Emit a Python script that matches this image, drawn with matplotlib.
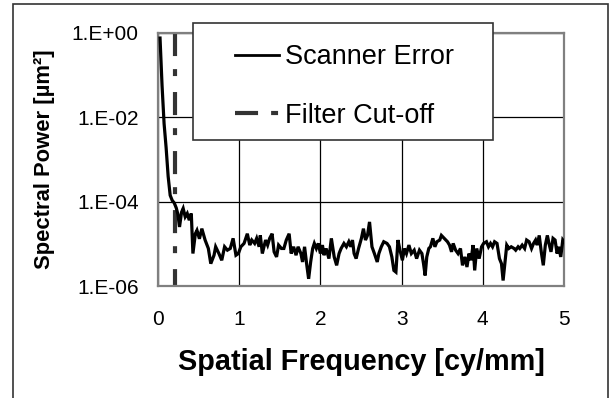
import matplotlib
matplotlib.use('Agg')
import matplotlib.pyplot as plt
import matplotlib.patches as patches
from matplotlib.lines import Line2D
import numpy as np

# ─── Data ────────────────────────────────────────────────────────────────────
freq = [0.025, 0.05, 0.075, 0.10, 0.125, 0.15, 0.175, 0.20, 0.225, 0.245,
        0.265, 0.29, 0.31, 0.335, 0.36, 0.385, 0.41, 0.43, 0.46, 0.48,
        0.51, 0.54, 0.58, 0.62, 0.65, 0.69, 0.71, 0.75, 0.785, 0.82,
        0.855, 0.89, 0.925, 0.96, 0.99, 1.02, 1.06, 1.10, 1.13, 1.155,
        1.19, 1.215, 1.245, 1.26, 1.285, 1.325, 1.35, 1.375, 1.405, 1.43,
        1.46, 1.485, 1.52, 1.55, 1.58, 1.615, 1.64, 1.67, 1.70, 1.725,
        1.76, 1.78, 1.805, 1.83, 1.855, 1.88, 1.905, 1.925, 1.95, 1.975,
        2.00, 2.025, 2.045, 2.07, 2.105, 2.135, 2.17, 2.20, 2.23, 2.255,
        2.29, 2.32, 2.35, 2.375, 2.395, 2.415, 2.44, 2.47, 2.505, 2.53,
        2.555, 2.58, 2.605, 2.635, 2.665, 2.70, 2.72, 2.75, 2.78, 2.82,
        2.85, 2.88, 2.905, 2.93, 2.955, 2.98, 3.01, 3.035, 3.06, 3.09,
        3.12, 3.155, 3.185, 3.22, 3.25, 3.27, 3.29, 3.31, 3.335, 3.355,
        3.385, 3.41, 3.435, 3.47, 3.49, 3.525, 3.565, 3.59, 3.615, 3.635,
        3.665, 3.695, 3.725, 3.75, 3.78, 3.805, 3.83, 3.855, 3.88, 3.90,
        3.925, 3.955, 3.985, 4.01, 4.045, 4.07, 4.095, 4.12, 4.145, 4.175,
        4.205, 4.23, 4.25, 4.275, 4.295, 4.32, 4.35, 4.385, 4.405, 4.435,
        4.455, 4.485, 4.515, 4.54, 4.57, 4.60, 4.625, 4.65, 4.67, 4.695,
        4.72, 4.745, 4.77, 4.795, 4.815, 4.84, 4.865, 4.89, 4.915, 4.935,
        4.96, 4.985, 5.00]

# log10 of spectral power [um^2]
power_log = [-0.12, -1.25, -2.15, -2.72, -3.40, -3.85, -3.97, -4.03, -4.15, -4.30,
             -4.60, -4.25, -4.16, -4.36, -4.28, -4.44, -4.28, -5.23, -4.76, -4.68,
             -4.88, -4.64, -4.91, -5.11, -5.47, -5.27, -5.07, -5.23, -5.39, -5.07,
             -5.15, -5.11, -4.87, -5.27, -5.23, -5.07, -4.99, -4.76, -5.03, -4.91,
             -4.99, -4.87, -5.07, -4.80, -5.23, -4.91, -5.03, -4.87, -4.76, -5.19,
             -5.31, -5.03, -5.11, -5.11, -4.91, -4.76, -5.23, -5.07, -5.27, -5.07,
             -5.23, -5.43, -5.07, -5.47, -5.83, -5.43, -5.11, -4.99, -5.11, -4.99,
             -5.23, -5.03, -5.27, -5.11, -5.35, -4.87, -5.31, -5.51, -5.23, -5.11,
             -4.99, -5.07, -4.95, -5.07, -4.91, -5.23, -5.35, -5.11, -4.87, -4.64,
             -4.91, -4.80, -4.48, -5.07, -5.23, -5.43, -5.23, -5.07, -4.95, -4.99,
             -5.07, -5.31, -5.63, -5.67, -4.91, -5.15, -5.39, -5.11, -5.23, -5.03,
             -5.23, -5.15, -5.35, -5.15, -5.23, -5.47, -5.75, -5.31, -5.11, -5.07,
             -4.87, -5.07, -4.95, -4.91, -4.80, -4.87, -4.95, -5.03, -5.19, -4.99,
             -5.15, -5.23, -5.11, -5.51, -5.31, -5.55, -5.23, -5.39, -5.03, -5.63,
             -5.11, -5.35, -5.07, -4.99, -4.95, -5.07, -4.99, -5.07, -4.95, -4.99,
             -5.35, -5.47, -5.87, -5.39, -5.03, -5.11, -5.07, -5.11, -5.15, -5.07,
             -5.11, -5.03, -5.11, -4.91, -4.95, -5.11, -4.99, -4.91, -5.03, -4.80,
             -5.19, -5.51, -5.03, -4.80, -4.99, -5.19, -4.87, -4.91, -5.23, -5.07,
             -5.31, -4.91, -4.95]

cutoff_freq = 0.21
cutoff_span = [1.0, 1e-6]

yticks = [1.0, 1e-2, 1e-4, 1e-6]
ytick_labels = ['1.E+00', '1.E-02', '1.E-04', '1.E-06']
xticks = [0, 1, 2, 3, 4, 5]

# ─── Style ───────────────────────────────────────────────────────────────────
plt.rcParams['font.family'] = ['Liberation Sans', 'DejaVu Sans']
plt.rcParams['lines.scale_dashes'] = False

W, H = 613, 398
fig = plt.figure(figsize=(W / 100, H / 100), dpi=100, facecolor='white')

# axes box in pixels: x 158-564, y 33-286 (from top)
ax = fig.add_axes([158 / W, 1 - 286 / H, 406 / W, 253 / H])
ax.set_yscale('log')
ax.set_xlim(0, 5)
ax.set_ylim(1e-6, 1.0)

power = 10 ** np.array(power_log)
ax.plot(freq, power, color='black', lw=2.3, solid_joinstyle='miter', zorder=3)

ax.plot([cutoff_freq, cutoff_freq], cutoff_span, color='#333333', lw=3,
        dashes=(16.6, 9.4, 5.0, 11.5), dash_capstyle='butt', zorder=2)

ax.set_yticks(yticks)
ax.set_yticklabels(ytick_labels)
ax.yaxis.set_minor_locator(matplotlib.ticker.NullLocator())
ax.set_xticks(xticks)
ax.tick_params(axis='y', length=0, pad=14, labelsize=15)
ax.tick_params(axis='x', length=0, pad=17, labelsize=15)

ax.grid(True, which='major', color='black', lw=0.9)
for s in ax.spines.values():
    s.set_color('#808080')
    s.set_linewidth(1.6)

ax.set_xlabel('Spatial Frequency [cy/mm]', fontsize=20.8, fontweight='bold',
              labelpad=14)
ax.set_ylabel('Spectral Power [µm²]', fontsize=15.8, fontweight='bold',
              labelpad=12)

# ─── Legend box (overlaps the plot top, so it lives on the figure) ───────────
box = patches.Rectangle((193 / W, 1 - 140 / H), 300 / W, 117 / H,
                        transform=fig.transFigure, facecolor='white',
                        edgecolor='#333333', lw=1.2, zorder=3)
fig.add_artist(box)

handles = [Line2D([], [], color='black', lw=2.0),
           Line2D([], [], color='#333333', lw=3, dashes=(16.6, 9.4, 5.0, 11.5),
                  dash_capstyle='butt')]
leg = fig.legend(handles, ['Scanner Error', 'Filter Cut-off'],
                 loc='center left', bbox_to_anchor=(234.6 / W, 1 - 86.5 / H),
                 frameon=False, fontsize=19.5, borderpad=0, borderaxespad=0,
                 handlelength=1.63, handletextpad=0.22, labelspacing=1.2)
leg.set_zorder(5)

# ─── Outer frame ─────────────────────────────────────────────────────────────
frame = patches.Rectangle((12.5 / W, -0.05), (608 - 12.5) / W, (H - 3.5) / H + 0.05,
                          transform=fig.transFigure, fill=False,
                          edgecolor='#333333', lw=1.2, zorder=1)
fig.add_artist(frame)

fig.savefig('out.png', dpi=100, facecolor='white')
